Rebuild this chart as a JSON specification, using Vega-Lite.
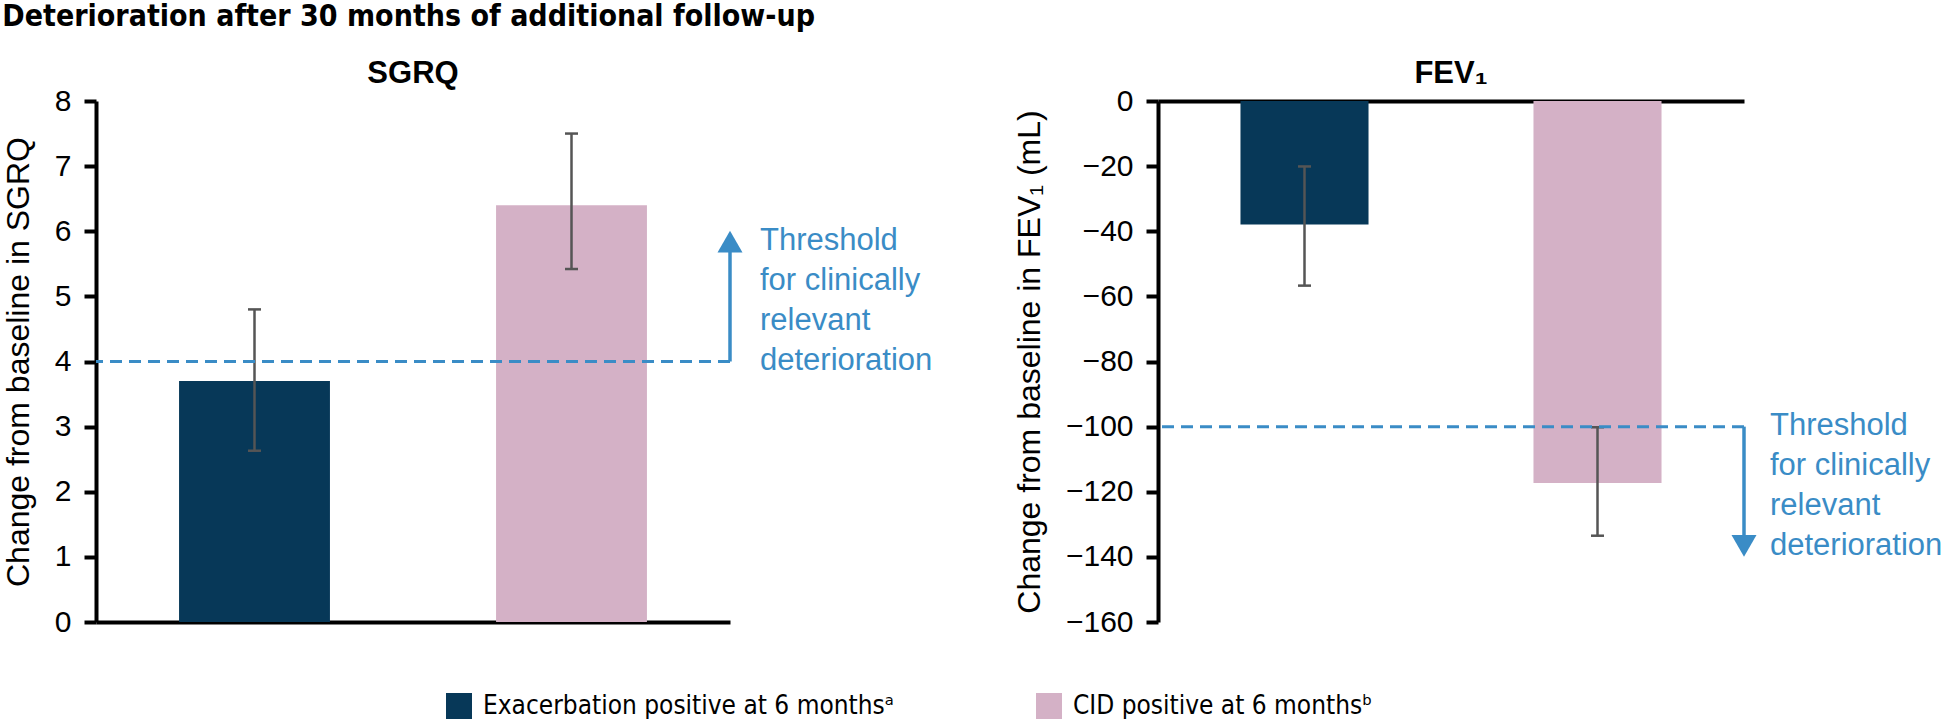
{
  "$schema": "https://vega.github.io/schema/vega-lite/v6.json",
  "autosize": {"type": "pad"},
  "padding": {"left": 2, "top": 2, "right": 0, "bottom": 0},
  "bounds": "flush",
  "spacing": 428,
  "background": "white",
  "title": {
    "text": "Deterioration after 30 months of additional follow-up",
    "anchor": "start",
    "frame": "bounds",
    "font": "Liberation Sans Narrow, DejaVu Sans Condensed, sans-serif",
    "fontSize": 30,
    "fontWeight": "bold",
    "color": "black",
    "offset": 26
  },
  "config": {
    "view": {"stroke": null},
    "axis": {
      "grid": false,
      "domainColor": "black",
      "domainWidth": 4,
      "tickColor": "black",
      "tickWidth": 4,
      "tickSize": 12,
      "labelFont": "Liberation Sans",
      "labelFontSize": 30,
      "labelColor": "black",
      "labelPadding": 13,
      "labelOverlap": false,
      "titleFont": "Liberation Sans",
      "titleFontSize": 32,
      "titleFontWeight": "normal",
      "titleColor": "black",
      "titlePadding": 19
    },
    "title": {"font": "Liberation Sans", "fontSize": 31, "fontWeight": "bold", "color": "black", "anchor": "middle", "offset": -4}
  },
  "datasets": {
    "sgrq": [
      {"group": "Exacerbation positive at 6 monthsᵃ", "mean": 3.7, "lo": 2.63, "hi": 4.8},
      {"group": "CID positive at 6 monthsᵇ", "mean": 6.4, "lo": 5.42, "hi": 7.5}
    ],
    "fev": [
      {"group": "Exacerbation positive at 6 monthsᵃ", "mean": -37.9, "lo": -56.7, "hi": -20.1},
      {"group": "CID positive at 6 monthsᵇ", "mean": -117.3, "lo": -133.5, "hi": -100.2}
    ],
    "sgrq_note": [{"threshold": 4, "note": "Threshold\nfor clinically\nrelevant\ndeterioration"}],
    "fev_note": [{"threshold": -100, "note": "Threshold\nfor clinically\nrelevant\ndeterioration"}]
  },
  "resolve": {"scale": {"x": "independent", "y": "independent"}},
  "hconcat": [
    {
      "width": 634,
      "height": 521,
      "title": {"text": "SGRQ"},
      "layer": [
        {
          "data": {"name": "sgrq"},
          "mark": {"type": "bar", "width": {"band": 0.476}},
          "encoding": {
            "x": {"field": "group", "type": "nominal", "sort": null,
                  "scale": {"paddingInner": 0, "paddingOuter": 0},
                  "axis": {"orient": "bottom", "labels": false, "ticks": false, "title": null}},
            "y": {"field": "mean", "type": "quantitative",
                  "scale": {"domain": [0, 8], "nice": false},
                  "axis": {"title": "Change from baseline in SGRQ", "values": [0, 1, 2, 3, 4, 5, 6, 7, 8], "format": "d"}},
            "color": {"field": "group", "type": "nominal", "sort": null,
                      "scale": {"domain": ["Exacerbation positive at 6 monthsᵃ", "CID positive at 6 monthsᵇ"], "range": ["#073858", "#d4b1c6"]},
                      "legend": {"orient": "none", "legendX": 350, "legendY": 592, "direction": "horizontal", "columns": 2, "title": null,
                                 "symbolType": "square", "symbolSize": 676, "symbolStrokeWidth": 0, "symbolOpacity": 1,
                                 "labelFont": "Liberation Sans Narrow, DejaVu Sans Condensed, sans-serif", "labelFontSize": 26, "labelColor": "black",
                                 "labelOffset": 11, "labelLimit": 0, "columnPadding": 142, "padding": 0}}
          }
        },
        {
          "data": {"name": "sgrq"},
          "mark": {"type": "rule", "color": "#555555", "strokeWidth": 2.5},
          "encoding": {
            "x": {"field": "group", "type": "nominal", "sort": null},
            "y": {"field": "lo", "type": "quantitative"},
            "y2": {"field": "hi"}
          }
        },
        {
          "data": {"name": "sgrq"},
          "mark": {"type": "tick", "color": "#555555", "thickness": 2.5, "size": 13, "orient": "horizontal", "opacity": 1},
          "encoding": {
            "x": {"field": "group", "type": "nominal", "sort": null},
            "y": {"field": "lo", "type": "quantitative"}
          }
        },
        {
          "data": {"name": "sgrq"},
          "mark": {"type": "tick", "color": "#555555", "thickness": 2.5, "size": 13, "orient": "horizontal", "opacity": 1},
          "encoding": {
            "x": {"field": "group", "type": "nominal", "sort": null},
            "y": {"field": "hi", "type": "quantitative"}
          }
        },
        {
          "data": {"name": "sgrq_note"},
          "mark": {"type": "rule", "color": "#3a8cc6", "strokeWidth": 3, "strokeDash": [12, 7]},
          "encoding": {"y": {"field": "threshold", "type": "quantitative"}}
        },
        {
          "data": {"name": "sgrq_note"},
          "mark": {"type": "rule", "color": "#3a8cc6", "strokeWidth": 3.5},
          "encoding": {
            "x": {"value": "width"},
            "y": {"field": "threshold", "type": "quantitative"},
            "y2": {"datum": 5.84}
          }
        },
        {
          "data": {"name": "sgrq_note"},
          "mark": {"type": "point", "shape": "triangle-up", "filled": true, "size": 625, "color": "#3a8cc6", "opacity": 1},
          "encoding": {
            "x": {"value": "width"},
            "y": {"datum": 5.84}
          }
        },
        {
          "data": {"name": "sgrq_note"},
          "mark": {"type": "text", "align": "left", "baseline": "alphabetic", "dx": 30, "lineBreak": "\n", "lineHeight": 40,
                   "font": "Liberation Sans", "fontSize": 31, "color": "#3a8cc6"},
          "encoding": {
            "x": {"value": "width"},
            "y": {"datum": 5.71},
            "text": {"field": "note"}
          }
        }
      ]
    },
    {
      "width": 586,
      "height": 521,
      "title": {"text": "FEV₁"},
      "layer": [
        {
          "data": {"name": "fev"},
          "mark": {"type": "bar", "width": {"band": 0.437}},
          "encoding": {
            "x": {"field": "group", "type": "nominal", "sort": null,
                  "scale": {"paddingInner": 0, "paddingOuter": 0},
                  "axis": {"orient": "top", "labels": false, "ticks": false, "title": null}},
            "y": {"field": "mean", "type": "quantitative",
                  "scale": {"domain": [-160, 0], "nice": false},
                  "axis": {"title": "Change from baseline in FEV₁ (mL)", "values": [-160, -140, -120, -100, -80, -60, -40, -20, 0]}},
            "color": {"field": "group", "type": "nominal", "sort": null,
                      "scale": {"domain": ["Exacerbation positive at 6 monthsᵃ", "CID positive at 6 monthsᵇ"], "range": ["#073858", "#d4b1c6"]},
                      "legend": {"orient": "none", "legendX": 350, "legendY": 592, "direction": "horizontal", "columns": 2, "title": null,
                                 "symbolType": "square", "symbolSize": 676, "symbolStrokeWidth": 0, "symbolOpacity": 1,
                                 "labelFont": "Liberation Sans Narrow, DejaVu Sans Condensed, sans-serif", "labelFontSize": 26, "labelColor": "black",
                                 "labelOffset": 11, "labelLimit": 0, "columnPadding": 142, "padding": 0}}
          }
        },
        {
          "data": {"name": "fev"},
          "mark": {"type": "rule", "color": "#555555", "strokeWidth": 2.5},
          "encoding": {
            "x": {"field": "group", "type": "nominal", "sort": null},
            "y": {"field": "lo", "type": "quantitative"},
            "y2": {"field": "hi"}
          }
        },
        {
          "data": {"name": "fev"},
          "mark": {"type": "tick", "color": "#555555", "thickness": 2.5, "size": 13, "orient": "horizontal", "opacity": 1},
          "encoding": {
            "x": {"field": "group", "type": "nominal", "sort": null},
            "y": {"field": "lo", "type": "quantitative"}
          }
        },
        {
          "data": {"name": "fev"},
          "mark": {"type": "tick", "color": "#555555", "thickness": 2.5, "size": 13, "orient": "horizontal", "opacity": 1},
          "encoding": {
            "x": {"field": "group", "type": "nominal", "sort": null},
            "y": {"field": "hi", "type": "quantitative"}
          }
        },
        {
          "data": {"name": "fev_note"},
          "mark": {"type": "rule", "color": "#3a8cc6", "strokeWidth": 3, "strokeDash": [12, 7]},
          "encoding": {"y": {"field": "threshold", "type": "quantitative"}}
        },
        {
          "data": {"name": "fev_note"},
          "mark": {"type": "rule", "color": "#3a8cc6", "strokeWidth": 3.5},
          "encoding": {
            "x": {"value": "width"},
            "y": {"field": "threshold", "type": "quantitative"},
            "y2": {"datum": -136.6}
          }
        },
        {
          "data": {"name": "fev_note"},
          "mark": {"type": "point", "shape": "triangle-down", "filled": true, "size": 625, "color": "#3a8cc6", "opacity": 1},
          "encoding": {
            "x": {"value": "width"},
            "y": {"datum": -136.6}
          }
        },
        {
          "data": {"name": "fev_note"},
          "mark": {"type": "text", "align": "left", "baseline": "alphabetic", "dx": 26, "lineBreak": "\n", "lineHeight": 40,
                   "font": "Liberation Sans", "fontSize": 31, "color": "#3a8cc6", "limit": 173, "ellipsis": ""},
          "encoding": {
            "x": {"value": "width"},
            "y": {"datum": -102.7},
            "text": {"field": "note"}
          }
        }
      ]
    }
  ]
}
